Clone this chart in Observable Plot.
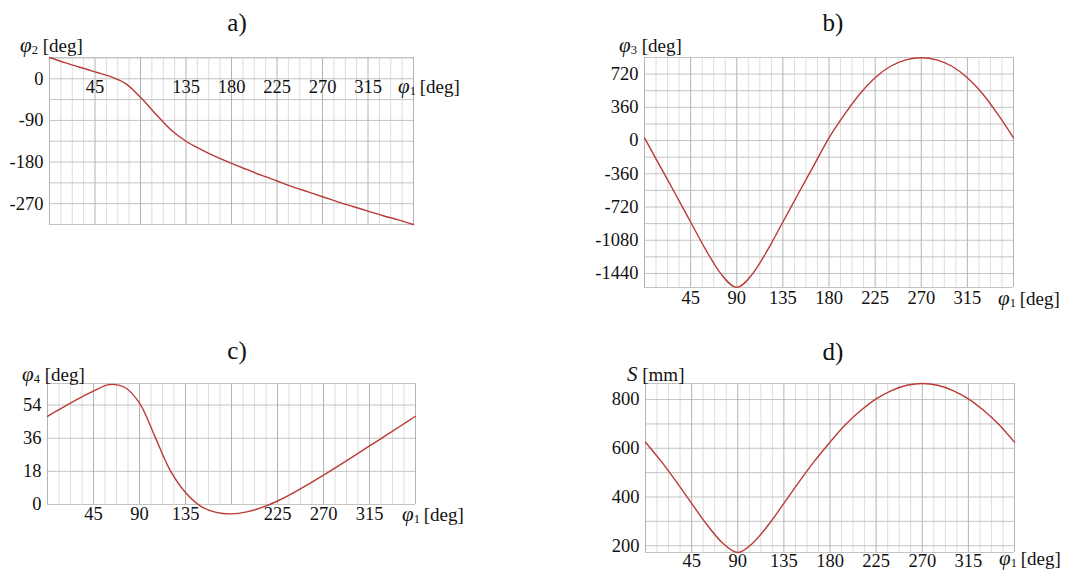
<!DOCTYPE html>
<html>
<head>
<meta charset="utf-8">
<script src="https://cdn.jsdelivr.net/npm/d3@7"></script>
<script src="https://cdn.jsdelivr.net/npm/@observablehq/plot@0.6"></script>
<style>
  html, body { margin: 0; padding: 0; background: #ffffff; }
  #page { position: relative; width: 1065px; height: 572px; overflow: hidden; background: #ffffff;
          font-family: "Liberation Serif", "Tinos", "Times New Roman", "DejaVu Serif", serif; color: #111; }
  .panel { position: absolute; }
  .panel svg { background: transparent !important; overflow: visible; }
  .ttl { position: absolute; font-size: 25px; transform: translate(-50%, -50%); white-space: nowrap; }
  .lab { position: absolute; font-size: 19px; transform: translateY(-50%); white-space: nowrap; line-height: 1; }
  .lab i { font-size: 21px; }
  .lab sub { font-size: 12.5px; vertical-align: -2px; line-height: 0; }
</style>
</head>
<body>
<div id="page"></div>
<script>
// ---- data ----
const phi1 = [0, 15, 30, 45, 60, 75, 90, 105, 120, 135, 150, 165, 180,
              195, 210, 225, 240, 255, 270, 285, 300, 315, 330, 345, 360];
const phi2 = [46, 35, 25, 15, 5, -10, -40, -76, -110, -135, -153, -169, -183,
              -196, -209, -221, -233, -244, -255, -266, -276, -286, -296, -305, -315];
const phi3 = [29, -274, -576, -882, -1188, -1450, -1591, -1450, -1188, -882, -576, -274, 29,
              280, 505, 680, 805, 875, 898, 875, 805, 680, 505, 280, 29];
const phi4 = [47.9, 52.7, 57.3, 61.5, 65.1, 63.8, 55.1, 37, 18.5, 6.5, -1, -4.3, -5.1,
              -4.0, -1.6, 1.9, 6.2, 10.9, 15.9, 21.1, 26.4, 31.8, 37.1, 42.5, 47.9];
const sDisp = [625, 548, 463, 374, 286, 212, 172, 212, 286, 374, 463, 548, 625,
               697, 755, 803, 837, 859, 866, 859, 837, 803, 755, 697, 625];

const xTicksA = [45, 135, 180, 225, 270, 315];
const xTicksB = [45, 90, 135, 180, 225, 270, 315];
const xTicksC = [45, 90, 135, 225, 270, 315];
const xTicksD = [45, 90, 135, 180, 225, 270, 315];
const yTicksA = [0, -90, -180, -270];
const yTicksB = [720, 360, 0, -360, -720, -1080, -1440];
const yTicksC = [0, 18, 36, 54];
const yTicksD = [200, 400, 600, 800];
const yGridA = d3.range(-315, 46, 45);
const yGridB = d3.range(-1440, 901, 180);
const yGridC = [0, 18, 36, 54];
const yGridD = d3.range(200, 801, 100);
const xMajor = d3.range(0, 361, 45);
const xMinor = d3.range(0, 361, 11.25).filter(d => d % 45 !== 0);

const lineColor = "#b93a36";
const fontStack = '"Liberation Serif", "Tinos", "Times New Roman", "DejaVu Serif", serif';
const page = document.getElementById("page");

function panel({values, yDomain, yTicks, yGrid, xTicks, xBase, xDy, box, margins, curve}) {
  const data = phi1.map((x, i) => ({x, y: values[i]}));
  const fmt = d => String(d);
  const chart = Plot.plot({
    width: box.w, height: box.h,
    marginLeft: margins[0], marginRight: margins[1], marginTop: margins[2], marginBottom: margins[3],
    style: {fontFamily: fontStack, fontSize: "18.5px", color: "#111", background: "transparent", overflow: "visible"},
    x: {domain: [0, 360], axis: null},
    y: {domain: yDomain, ticks: yTicks, tickSize: 0, tickPadding: 6, tickFormat: fmt, label: null},
    marks: [
      Plot.ruleX(xMinor, {stroke: "#dcdcdc", strokeWidth: 1}),
      Plot.ruleY(yGrid.concat(yDomain), {stroke: "#c4c4c4", strokeWidth: 1}),
      Plot.ruleX(xMajor, {stroke: "#b4b4b4", strokeWidth: 1}),
      Plot.line(data, {x: "x", y: "y", curve, stroke: lineColor, strokeWidth: 1.4}),
      Plot.text(xTicks, {x: d => d, y: () => xBase, text: fmt, dy: xDy, fontSize: 18.5, fill: "#111"})
    ]
  });
  const wrap = document.createElement("div");
  wrap.className = "panel";
  wrap.style.left = box.left + "px";
  wrap.style.top = box.top + "px";
  wrap.appendChild(chart);
  page.appendChild(wrap);
}

panel({values: phi2, yDomain: [-315, 46], yTicks: yTicksA, yGrid: yGridA, xTicks: xTicksA, xBase: 0, xDy: 8,
       box: {left: 0, top: 0, w: 530, h: 260}, margins: [49, 117, 57, 36], curve: "catmull-rom"});
panel({values: phi3, yDomain: [-1592, 900], yTicks: yTicksB, yGrid: yGridB, xTicks: xTicksB, xBase: -1592, xDy: 11,
       box: {left: 533, top: 0, w: 532, h: 305}, margins: [111, 52, 57, 18], curve: "monotone-x"});
panel({values: phi4, yDomain: [0, 65.7], yTicks: yTicksC, yGrid: yGridC, xTicks: xTicksC, xBase: 0, xDy: 10,
       box: {left: 0, top: 300, w: 530, h: 260}, margins: [47, 115, 83, 56], curve: "catmull-rom"});
panel({values: sDisp, yDomain: [172, 866], yTicks: yTicksD, yGrid: yGridD, xTicks: xTicksD, xBase: 172, xDy: 9,
       box: {left: 533, top: 305, w: 532, h: 267}, margins: [112, 51, 78, 20], curve: "monotone-x"});

// ---- titles and axis labels ----
function addHTML(cls, html, left, top) {
  const el = document.createElement("div");
  el.className = cls;
  el.innerHTML = html;
  el.style.left = left + "px";
  el.style.top = top + "px";
  page.appendChild(el);
}
const titles = ["a)", "b)", "c)", "d)"];
addHTML("ttl", titles[0], 237, 23);
addHTML("ttl", titles[1], 833, 23);
addHTML("ttl", titles[2], 237, 351);
addHTML("ttl", titles[3], 833, 352);

const yLabels = ["<i>φ</i><sub>2</sub> [deg]", "<i>φ</i><sub>3</sub> [deg]", "<i>φ</i><sub>4</sub> [deg]", "<i>S</i> [mm]"];
addHTML("lab", yLabels[0], 20, 45);
addHTML("lab", yLabels[1], 619, 45);
addHTML("lab", yLabels[2], 22, 374);
addHTML("lab", yLabels[3], 627, 374);

const xLabel = "<i>φ</i><sub>1</sub>&thinsp;[deg]";
addHTML("lab", xLabel, 398, 86);
addHTML("lab", xLabel, 998, 298);
addHTML("lab", xLabel, 402, 514);
addHTML("lab", xLabel, 999, 558);
</script>
</body>
</html>
